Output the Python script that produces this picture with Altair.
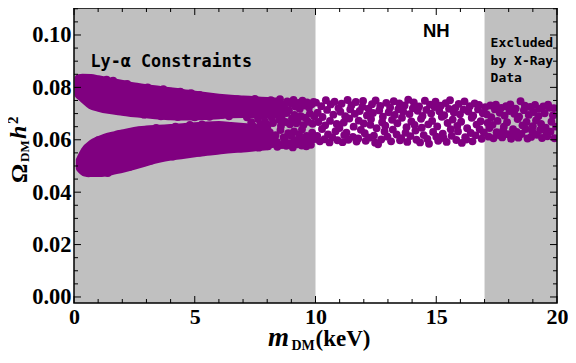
import altair as alt
import pandas as pd

PURPLE = "#800080"
GRAY = "#c0c0c0"
W, H = 483, 295

# shaded (excluded) regions in m_DM (keV)
shade_start = [0, 17]
shade_end = [10, 20]

# dense part of the two branches (point centres)
upper_band_x = [0.2, 0.35, 0.7, 1.0, 1.5, 2.0, 2.5, 3.0, 3.5, 4.0, 4.5, 5.0, 5.5, 6.0, 6.5, 7.0, 7.5, 8.0, 8.5]
upper_band_top = [0.0834, 0.0836, 0.0835, 0.0830, 0.0821, 0.0812, 0.0803, 0.0796, 0.0790, 0.0784, 0.0778, 0.0771, 0.0765, 0.0760, 0.0756, 0.0753, 0.0750, 0.0747, 0.0744]
upper_band_bottom = [0.0772, 0.0760, 0.0733, 0.0724, 0.0714, 0.0708, 0.0702, 0.0698, 0.0694, 0.0691, 0.0690, 0.0690, 0.0692, 0.0695, 0.0698, 0.0699, 0.0698, 0.0697, 0.0700]

lower_band_x = [0.25, 0.45, 0.75, 1.0, 1.3, 1.7, 2.0, 2.5, 3.0, 3.5, 4.0, 4.5, 5.0, 5.5, 6.0, 6.5, 7.0, 7.5, 8.0]
lower_band_top = [0.0522, 0.0558, 0.0585, 0.0597, 0.0608, 0.0617, 0.0623, 0.0633, 0.0638, 0.0641, 0.0644, 0.0647, 0.0651, 0.0654, 0.0655, 0.0652, 0.0648, 0.0643, 0.0638]
lower_band_bottom = [0.0492, 0.0476, 0.0474, 0.0474, 0.0476, 0.0484, 0.0490, 0.0502, 0.0516, 0.0528, 0.0537, 0.0543, 0.0549, 0.0555, 0.0560, 0.0565, 0.0568, 0.0572, 0.0576]

# individual points on the band edges
band_edge_pts = [(1.35, .0829), (1.62, .0826), (2.2, .0813), (3.05, .0800), (3.7, .0793), (4.4, .0784), (4.85, .0778), (5.2, .0771),
                 (0.9, .0734), (1.8, .0712), (2.9, .0696), (3.6, .0690), (4.3, .0687), (5.0, .0686),
                 (1.0, .0598), (1.9, .0622), (2.7, .0635), (3.4, .0645), (4.2, .0650), (4.8, .0657), (5.3, .0659),
                 (0.6, .0472), (1.4, .0473), (2.3, .0497), (3.2, .0521), (4.1, .0536), (4.7, .0547), (5.2, .0551)]

# scattered cloud 5.5 - 10 keV
cloud_mid = [
    (5.53, .0752), (5.58, .0712), (5.49, .0598), (5.56, .0571),
    (5.64, .0745), (5.61, .0688), (5.70, .0632),
    (5.67, .0738), (5.79, .0701), (5.74, .0605), (5.82, .0566),
    (5.86, .0749), (5.80, .0700), (5.91, .0588),
    (5.94, .0730), (6.02, .0694), (5.97, .0619), (6.05, .0574),
    (6.08, .0756), (6.03, .0717), (6.13, .0641),
    (6.17, .0741), (6.11, .0695), (6.21, .0595), (6.15, .0569),
    (6.25, .0725), (6.31, .0648), (6.28, .0612),
    (6.34, .0752), (6.39, .0706), (6.44, .0636), (6.36, .0580),
    (6.47, .0733), (6.42, .0690), (6.53, .0601),
    (6.56, .0747), (6.63, .0708), (6.59, .0624), (6.50, .0572),
    (6.68, .0719), (6.71, .0645), (6.65, .0589),
    (6.76, .0754), (6.81, .0699), (6.74, .0614), (6.85, .0576),
    (6.88, .0737), (6.93, .0722), (6.90, .0630),
    (6.98, .0726), (7.04, .0640), (6.96, .0597), (7.07, .0583),
    (7.09, .0750), (7.13, .0708), (7.17, .0645),
    (7.20, .0731), (7.16, .0686), (7.24, .0608), (7.27, .0574),
    (7.29, .0744), (7.34, .0667), (7.31, .0621),
    (7.38, .0715), (7.43, .0650), (7.36, .0593), (7.46, .0579),
    (7.49, .0756), (7.45, .0697), (7.54, .0634),
    (7.57, .0728), (7.62, .0679), (7.59, .0603), (7.65, .0570),
    (7.68, .0740), (7.72, .0659), (7.66, .0617),
    (7.77, .0722), (7.74, .0692), (7.81, .0587), (7.84, .0581),
    (7.86, .0748), (7.91, .0670), (7.88, .0640),
    (7.95, .0734), (8.00, .0705), (7.97, .0611), (8.04, .0575),
    (8.07, .0717), (8.03, .0657), (8.12, .0596),
    (8.15, .0751), (8.19, .0685), (8.11, .0628), (8.22, .0584),
    (8.26, .0729), (8.24, .0664), (8.30, .0606),
    (8.33, .0742), (8.38, .0698), (8.35, .0618), (8.42, .0573),
    (8.45, .0720), (8.49, .0676), (8.41, .0591),
    (8.53, .0755), (8.57, .0653), (8.55, .0637), (8.61, .0580),
    (8.64, .0735), (8.60, .0689), (8.68, .0609),
    (8.71, .0724), (8.76, .0668), (8.73, .0599), (8.79, .0577),
    (8.83, .0746), (8.80, .0702), (8.87, .0625),
    (8.90, .0713), (8.94, .0659), (8.92, .0586),
    (8.98, .0739), (9.03, .0682), (9.00, .0614), (9.06, .0571),
    (9.09, .0752), (9.13, .0695), (9.11, .0632),
    (9.17, .0727), (9.21, .0663), (9.15, .0598), (9.24, .0583),
    (9.28, .0741), (9.26, .0674), (9.32, .0620),
    (9.35, .0718), (9.39, .0690), (9.37, .0604), (9.43, .0578),
    (9.46, .0749), (9.50, .0656), (9.44, .0639),
    (9.54, .0731), (9.58, .0684), (9.56, .0592), (9.62, .0575),
    (9.65, .0743), (9.69, .0669), (9.63, .0615),
    (9.73, .0723), (9.77, .0700), (9.75, .0605), (9.81, .0581),
    (9.84, .0736), (9.88, .0661), (9.86, .0627),
    (9.92, .0744), (9.95, .0690), (9.97, .0603),
]

# scattered cloud 10 - 17 keV (NH allowed window)
cloud_nh = [
    (10.02, .0742), (10.07, .0615),
    (10.09, .0703), (10.18, .0594), (10.12, .0668),
    (10.24, .0728), (10.27, .0641),
    (10.29, .0687), (10.37, .0602),
    (10.43, .0751), (10.40, .0655), (10.52, .0620),
    (10.48, .0714), (10.58, .0590),
    (10.63, .0735), (10.60, .0672),
    (10.74, .0696), (10.70, .0609), (10.83, .0633),
    (10.79, .0745), (10.88, .0660),
    (10.95, .0721), (10.91, .0598),
    (11.03, .0707), (10.99, .0645), (11.12, .0591),
    (11.08, .0738), (11.19, .0618),
    (11.23, .0690), (11.17, .0666),
    (11.33, .0752), (11.28, .0627), (11.36, .0600),
    (11.44, .0716), (11.40, .0681),
    (11.49, .0732), (11.55, .0611),
    (11.63, .0699), (11.58, .0650), (11.70, .0593),
    (11.67, .0744), (11.79, .0673),
    (11.83, .0710), (11.77, .0605),
    (11.94, .0726), (11.88, .0638), (12.00, .0662),
    (11.97, .0748), (12.08, .0596),
    (12.13, .0693), (12.04, .0625),
    (12.19, .0719), (12.27, .0657), (12.23, .0608),
    (12.34, .0736), (12.30, .0679),
    (12.38, .0702), (12.47, .0589),
    (12.49, .0750), (12.53, .0644), (12.42, .0616),
    (12.64, .0712), (12.59, .0583),
    (12.68, .0729), (12.76, .0667),
    (12.79, .0688), (12.72, .0601), (12.86, .0632),
    (12.93, .0741), (12.89, .0654),
    (13.03, .0705), (12.98, .0612),
    (13.09, .0723), (13.17, .0676), (13.13, .0594),
    (13.24, .0747), (13.20, .0639),
    (13.28, .0695), (13.36, .0620),
    (13.43, .0717), (13.39, .0663), (13.50, .0598),
    (13.47, .0739), (13.58, .0684),
    (13.63, .0708), (13.55, .0606),
    (13.69, .0731), (13.77, .0648), (13.73, .0627),
    (13.84, .0753), (13.80, .0592),
    (13.89, .0698), (13.97, .0670),
    (14.03, .0720), (13.93, .0614), (14.10, .0657),
    (14.07, .0743), (14.18, .0600),
    (14.23, .0711), (14.14, .0635),
    (14.29, .0727), (14.37, .0680), (14.33, .0590),
    (14.43, .0691), (14.40, .0646),
    (14.53, .0749), (14.48, .0618),
    (14.59, .0714), (14.67, .0659), (14.63, .0603),
    (14.74, .0734), (14.70, .0585),
    (14.79, .0700), (14.87, .0630),
    (14.93, .0725), (14.83, .0672), (15.00, .0612),
    (14.97, .0745), (15.08, .0596),
    (15.13, .0709), (15.04, .0651),
    (15.19, .0730), (15.27, .0623), (15.23, .0688),
    (15.33, .0694), (15.30, .0607),
    (15.39, .0740), (15.47, .0664),
    (15.53, .0718), (15.43, .0592), (15.60, .0640),
    (15.57, .0751), (15.68, .0677),
    (15.73, .0704), (15.64, .0615),
    (15.79, .0722), (15.87, .0653), (15.83, .0599),
    (15.93, .0737), (15.90, .0632),
    (15.98, .0697), (16.06, .0588),
    (16.13, .0715), (16.03, .0669), (16.20, .0610),
    (16.17, .0746), (16.28, .0644),
    (16.33, .0708), (16.24, .0601),
    (16.39, .0728), (16.47, .0684), (16.43, .0626),
    (16.53, .0692), (16.50, .0594),
    (16.59, .0739), (16.67, .0658),
    (16.73, .0716), (16.63, .0617), (16.80, .0640),
    (16.77, .0733), (16.88, .0604),
    (16.93, .0701), (16.84, .0671),
]

# scattered cloud 17 - 20 keV (X-ray excluded)
cloud_xray = [
    (17.03, .0724), (16.97, .0628),
    (17.09, .0697), (17.17, .0612), (17.13, .0664),
    (17.24, .0731), (17.20, .0645),
    (17.28, .0686), (17.37, .0606),
    (17.43, .0716), (17.33, .0657), (17.50, .0629),
    (17.47, .0734), (17.58, .0618),
    (17.63, .0703), (17.54, .0672),
    (17.69, .0722), (17.77, .0636), (17.73, .0609),
    (17.83, .0692), (17.80, .0650),
    (17.89, .0728), (17.97, .0621),
    (18.03, .0710), (17.93, .0667), (18.10, .0604),
    (18.07, .0735), (18.18, .0640),
    (18.23, .0699), (18.14, .0614),
    (18.29, .0719), (18.37, .0679), (18.33, .0630),
    (18.43, .0688), (18.40, .0608),
    (18.49, .0747), (18.57, .0655),
    (18.63, .0713), (18.53, .0622), (18.70, .0641),
    (18.67, .0730), (18.78, .0605),
    (18.83, .0695), (18.74, .0668),
    (18.89, .0725), (18.97, .0634), (18.93, .0611),
    (19.03, .0706), (19.00, .0652),
    (19.09, .0733), (19.17, .0619),
    (19.23, .0690), (19.13, .0674), (19.30, .0637),
    (19.27, .0718), (19.38, .0607),
    (19.43, .0727), (19.34, .0660),
    (19.49, .0701), (19.57, .0624), (19.53, .0646),
    (19.63, .0734), (19.60, .0613),
    (19.69, .0722), (19.77, .0669),
    (19.83, .0693), (19.73, .0631), (19.90, .0606),
    (19.87, .0721), (19.96, .0650),
]

# axis ticks
x_major = [0, 5, 10, 15, 20]
x_minor = [1, 2, 3, 4, 6, 7, 8, 9, 11, 12, 13, 14, 16, 17, 18, 19]
y_major = [0.0, 0.02, 0.04, 0.06, 0.08, 0.10]
y_minor = [0.005, 0.01, 0.015, 0.025, 0.03, 0.035, 0.045, 0.05, 0.055,
           0.065, 0.07, 0.075, 0.085, 0.09, 0.095, 0.105, 0.11]

# annotations (data coordinates)
ann_text = ["Ly-\u03b1 Constraints", "NH", "Excluded\nby X-Ray\nData"]
ann_x = [0.68, 15.0, 17.25]
ann_y = [0.0878, 0.0992, 0.0954]

xs = alt.Scale(domain=[0, 20], nice=False, zero=False)
ys = alt.Scale(domain=[-0.0023, 0.1103], nice=False, zero=False)
lab = dict(ticks=False, domain=False, grid=False, labelFont="Liberation Serif",
           labelFontWeight="bold", labelColor="black", title=None)
xa = alt.Axis(values=x_major, format="d", labelPadding=3, labelFlush=False, labelFontSize=22, **lab)
ya = alt.Axis(values=y_major, format=".2f", labelPadding=3, labelFontSize=22.5, **lab)


def X(f):
    return alt.X(f, type="quantitative", scale=xs, axis=xa)


def Y(f):
    return alt.Y(f, type="quantitative", scale=ys, axis=ya)


layers = []

shade_df = pd.DataFrame({"s": shade_start, "e": shade_end})
layers.append(alt.Chart(shade_df).mark_rect(color=GRAY).encode(
    x=X("s"), x2="e", y=alt.value(0), y2=alt.value(H)))

band_style = dict(color=PURPLE, stroke=PURPLE, strokeWidth=8.5, strokeJoin="round",
                  interpolate="monotone", opacity=1)
up_df = pd.DataFrame({"x": upper_band_x, "t": upper_band_top, "b": upper_band_bottom})
lo_df = pd.DataFrame({"x": lower_band_x, "t": lower_band_top, "b": lower_band_bottom})
layers.append(alt.Chart(up_df).mark_area(**band_style).encode(x=X("x"), y=Y("t"), y2="b"))
layers.append(alt.Chart(lo_df).mark_area(**band_style).encode(x=X("x"), y=Y("t"), y2="b"))

pts_df = pd.DataFrame(band_edge_pts + cloud_mid + cloud_nh + cloud_xray, columns=["x", "y"])
layers.append(alt.Chart(pts_df).mark_circle(size=62, color=PURPLE, opacity=1, clip=True).encode(
    x=X("x"), y=Y("y")))


# inward ticks on all four sides
def xticks(vals, length):
    d = pd.DataFrame({"v": vals})
    b = alt.Chart(d).mark_rule(color="black", strokeWidth=1).encode(
        x=X("v"), y=alt.value(H), y2=alt.value(H - length))
    t = alt.Chart(d).mark_rule(color="black", strokeWidth=1).encode(
        x=X("v"), y=alt.value(0), y2=alt.value(length))
    return [b, t]


def yticks(vals, length):
    d = pd.DataFrame({"v": vals})
    l = alt.Chart(d).mark_rule(color="black", strokeWidth=1).encode(
        y=Y("v"), x=alt.value(0), x2=alt.value(length))
    r = alt.Chart(d).mark_rule(color="black", strokeWidth=1).encode(
        y=Y("v"), x=alt.value(W), x2=alt.value(W - length))
    return [l, r]


layers += xticks(x_major, 7) + xticks(x_minor, 4) + yticks(y_major, 7) + yticks(y_minor, 4)

one = pd.DataFrame({"a": [0]})
layers.append(alt.Chart(one).mark_rect(fillOpacity=0, stroke="black", strokeWidth=1.5).encode(
    x=alt.value(0), x2=alt.value(W), y=alt.value(0), y2=alt.value(H)))

ann_df = pd.DataFrame({"t": ann_text, "x": ann_x, "y": ann_y})
layers.append(alt.Chart(ann_df.iloc[[0]]).mark_text(
    font="DejaVu Sans Mono", fontWeight="bold", fontSize=16.8, align="left",
    baseline="alphabetic", color="black").encode(x=X("x"), y=Y("y"), text="t:N"))
layers.append(alt.Chart(ann_df.iloc[[1]]).mark_text(
    font="Liberation Sans", fontWeight="bold", fontSize=18.5, align="center",
    baseline="alphabetic", color="black").encode(x=X("x"), y=Y("y"), text="t:N"))
layers.append(alt.Chart(ann_df.iloc[[2]]).mark_text(
    font="DejaVu Sans Mono", fontWeight="bold", fontSize=13, align="left",
    baseline="alphabetic", lineBreak="\n", lineHeight=17.5, color="black").encode(
    x=X("x"), y=Y("y"), text="t:N"))


def piece(txt, px, py, size, style="normal", angle=0):
    d = pd.DataFrame({"t": [txt]})
    return alt.Chart(d).mark_text(
        font="Liberation Serif", fontWeight="bold", fontStyle=style, fontSize=size,
        align="left", baseline="alphabetic", angle=angle, color="black").encode(
        x=alt.value(px), y=alt.value(py), text="t:N")


# y-axis title: Omega_DM h^2 (rotated)
layers.append(piece("\u03a9", -47.5, 175, 24, angle=270))
layers.append(piece("DM", -45, 154, 13, angle=270))
layers.append(piece("h", -48, 131, 24, style="italic", angle=270))
layers.append(piece("2", -56, 116, 15, angle=270))

# x-axis title: m_DM(keV)
layers.append(piece("m", 194, H + 43, 27, style="italic"))
layers.append(piece("DM", 217.5, H + 47, 14))
layers.append(piece("(keV)", 241.5, H + 43, 23))

chart = alt.layer(*layers).properties(
    width=W, height=H, background="white",
    autosize=alt.AutoSizeParams(type="none"),
    padding={"left": 66, "top": 0, "right": 11, "bottom": 48},
).configure_view(stroke=None)

chart.save("out.html", embed_options={"renderer": "svg", "actions": False})
